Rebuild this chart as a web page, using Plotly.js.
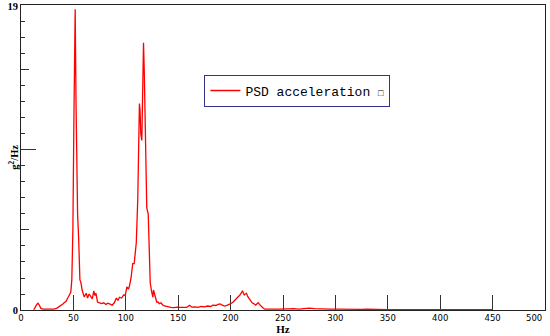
<!DOCTYPE html>
<html>
<head>
<meta charset="utf-8">
<script src="https://cdn.plot.ly/plotly-3.0.1.min.js"></script>
<style>
  html, body { margin: 0; padding: 0; background: #fff; }
  #chart { width: 550px; height: 336px; }
</style>
</head>
<body>
<div id="chart"></div>
<script>
// PSD spectrum (Hz / g^2/Hz)
const freq = [
  12, 13, 15, 16.3, 17.5, 19, 21, 25, 28, 31, 34, 36.4, 38, 40, 41.2, 43, 45, 46, 47.5, 48.5,
  49.5, 50.5, 51.7, 52.5, 53.2, 54, 55, 56.2, 57.2, 58.5, 60.3, 61.3, 62.3, 63.5, 65, 66.5, 68, 69.5, 70.5, 71.5,
  73, 75, 77, 79, 81, 83, 85, 87, 89, 91, 92.5, 94, 96, 98, 99.5, 101, 102.5, 103.5, 105, 106.6,
  108, 109, 110, 111.4, 112.3, 113, 113.6, 114.3, 115.3, 116.2, 116.9, 117.6, 118.5, 119.3, 120, 121.4, 122.3, 123.3, 124.5, 125.8,
  126.4, 127.3, 128.4, 129.5, 130.6, 132, 133.5, 135.4, 137, 140, 143, 146, 149, 152, 155, 158, 161, 163, 166, 169,
  172, 175, 178, 181, 183, 186, 188, 190, 192, 194.4, 197, 199, 200.8, 202.5, 204, 205.5, 207.2, 208.5, 209.5, 210.5,
  211.4, 212.2, 213, 214, 215.2, 216.3, 217.4, 218.5, 219.3, 220.5, 221.6, 223, 224, 225, 226.3, 227.5, 229.6, 231, 232.8, 236,
  240, 245, 250, 255, 260, 265, 270, 275, 280, 285, 290, 295, 300, 305, 310, 315, 320, 325, 330, 335,
  340, 350, 375, 400, 425, 450
];
const psd = [
  0.02, 0.1, 0.35, 0.42, 0.3, 0.1, 0.05, 0.04, 0.06, 0.05, 0.1, 0.2, 0.28, 0.38, 0.46, 0.55, 0.8, 0.94, 1.1, 1.9,
  5.0, 12, 18.8, 13, 8, 6.0, 4.5, 1.9, 1.7, 1.2, 0.82, 1.0, 1.05, 0.75, 1.0, 0.85, 0.7, 1.2, 0.9, 1.05,
  0.5, 0.45, 0.4, 0.45, 0.35, 0.42, 0.38, 0.3, 0.45, 0.75, 0.6, 0.8, 0.75, 0.95, 0.9, 1.45, 1.3, 1.5, 2.0, 2.9,
  2.9, 3.5, 4.2, 6.9, 10, 12.9, 12.5, 11, 10.6, 14, 16.7, 15, 11, 8, 6.4, 6.0, 3.5, 1.7, 1.2, 0.8,
  1.25, 1.0, 0.83, 0.5, 0.5, 0.4, 0.45, 0.3, 0.25, 0.2, 0.17, 0.15, 0.18, 0.16, 0.15, 0.17, 0.3, 0.18, 0.2, 0.16,
  0.22, 0.2, 0.25, 0.22, 0.3, 0.28, 0.35, 0.38, 0.3, 0.25, 0.3, 0.35, 0.42, 0.5, 0.62, 0.7, 0.83, 0.9, 1.04, 1.15,
  1.2, 1.05, 0.94, 1.0, 1.04, 0.85, 0.73, 0.6, 0.52, 0.45, 0.42, 0.35, 0.3, 0.38, 0.46, 0.35, 0.2, 0.12, 0.05, 0.04,
  0.05, 0.06, 0.05, 0.07, 0.08, 0.06, 0.09, 0.12, 0.08, 0.06, 0.07, 0.05, 0.06, 0.05, 0.04, 0.06, 0.05, 0.04, 0.05, 0.04,
  0.03, 0.02, 0.02, 0.02, 0.02, 0.02
];

const xTicks = [0, 50, 100, 150, 200, 250, 300, 350, 400, 450];
const xLastTick = 500;   // its label sits flush with the right edge, drawn as annotation
const yLabelTicks = [0, 19];
const yMidTicks = [5, 15];
const yLongTicks = [10];
const yMax = 19.06;

const trace = {
  x: freq,
  y: psd,
  type: 'scatter',
  mode: 'lines',
  name: 'PSD acceleration <span style="font-size:9px">□</span>',
  line: {color: '#ff0000', width: 1.3}
};

// dummy traces on overlay axes, only there to draw the longer y ticks
const tickTrace2 = {x: [0], y: [0], yaxis: 'y2', mode: 'none', showlegend: false, hoverinfo: 'skip'};
const tickTrace3 = {x: [0], y: [0], yaxis: 'y3', mode: 'none', showlegend: false, hoverinfo: 'skip'};

const tickStyle = {ticks: 'inside', tickcolor: '#333', tickwidth: 1};
const xTickFont = {family: 'DejaVu Sans, sans-serif', size: 8.5, color: '#000'};

const layout = {
  width: 550,
  height: 336,
  margin: {l: 21, r: 5, t: 5, b: 26},
  paper_bgcolor: '#fff',
  plot_bgcolor: '#fff',
  showlegend: true,
  legend: {
    x: 0.35, y: 0.772, xanchor: 'left', yanchor: 'top',
    bordercolor: '#33338f', borderwidth: 1, bgcolor: '#fff',
    font: {family: 'Liberation Mono, monospace', size: 13, color: '#000'}
  },
  xaxis: {
    range: [0, 500],
    tickvals: xTicks,
    ...tickStyle, ticklen: 15,
    showline: true, mirror: true, linecolor: '#222', linewidth: 1,
    showgrid: false, zeroline: false,
    layer: 'below traces',
    tickfont: xTickFont,
    title: {text: '<b>Hz</b>', font: {family: 'Liberation Serif, serif', size: 11, color: '#000'}, standoff: 0}
  },
  yaxis: {
    range: [0, yMax],
    tickvals: yLabelTicks,
    ...tickStyle, ticklen: 4,
    minor: {dtick: 1, tick0: 0, ticks: 'inside', ticklen: 4, tickcolor: '#333', tickwidth: 1},
    showline: true, mirror: true, linecolor: '#222', linewidth: 1,
    showgrid: false, zeroline: false,
    layer: 'below traces',
    tickfont: {family: 'Liberation Serif, serif', size: 10.5, color: '#000', weight: 'bold'}
  },
  yaxis2: {
    overlaying: 'y', side: 'left', range: [0, yMax],
    tickvals: yMidTicks, showticklabels: false,
    ...tickStyle, ticklen: 8,
    showgrid: false, zeroline: false, showline: false
  },
  yaxis3: {
    overlaying: 'y', side: 'left', range: [0, yMax],
    tickvals: yLongTicks, showticklabels: false,
    ...tickStyle, ticklen: 15,
    showgrid: false, zeroline: false, showline: false
  },
  annotations: [
    {
      text: '<b>g<sup>2</sup>/Hz</b>',
      xref: 'paper', yref: 'paper', x: -0.015, y: 0.5,
      xanchor: 'center', yanchor: 'middle',
      textangle: -90, showarrow: false,
      font: {family: 'Liberation Serif, serif', size: 10.5, color: '#000'}
    },
    {
      text: String(xLastTick),
      xref: 'x', yref: 'paper', x: xLastTick, y: 0,
      xanchor: 'right', yanchor: 'top', xshift: -1, yshift: -1,
      showarrow: false, font: xTickFont
    }
  ]
};

Plotly.newPlot('chart', [trace, tickTrace2, tickTrace3], layout, {displayModeBar: false, staticPlot: true});
</script>
</body>
</html>
